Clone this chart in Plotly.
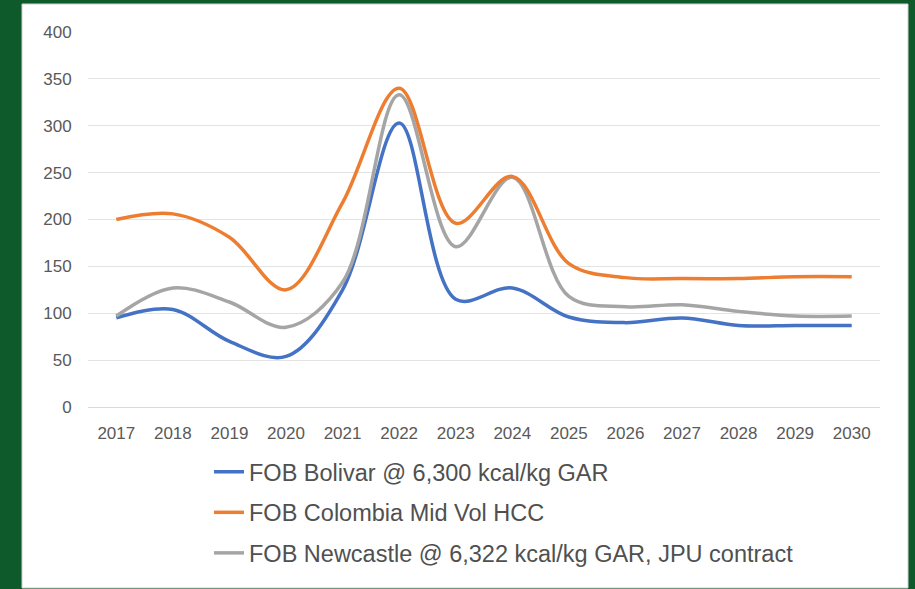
import plotly.graph_objects as go

years = ["2017", "2018", "2019", "2020", "2021", "2022", "2023", "2024",
         "2025", "2026", "2027", "2028", "2029", "2030"]
bolivar = [95, 104, 70, 54, 125, 303, 115, 127, 96, 90, 95, 87, 87, 87]
colombia = [200, 206, 181, 125, 218, 340, 196, 246, 153, 138, 137, 137, 139, 139]
newcastle = [97, 127, 112, 85, 133, 333, 171, 245, 118, 107, 109, 102, 97, 97]

names = ["FOB Bolivar @ 6,300 kcal/kg GAR",
         "FOB Colombia Mid Vol HCC",
         "FOB Newcastle @ 6,322 kcal/kg GAR, JPU contract"]
colors = ["#4472c4", "#ed7d31", "#a5a5a5"]
series = [bolivar, colombia, newcastle]

L, R, T, B = 88, 35, 32, 182
W, H = 915, 589
pw, ph = W - L - R, H - T - B

fig = go.Figure()
# draw order: blue, gray, orange (orange on top); legend order via legendrank
for i in [0, 2, 1]:
    fig.add_trace(go.Scatter(
        x=years, y=series[i], name=names[i], mode="lines",
        line=dict(color=colors[i], width=3.5, shape="spline", smoothing=1.0),
        legendgroup=str(i), legendrank=i + 1,
    ))


def px_x(p):
    return (p - L) / pw


def px_y(p):
    return (H - B - p) / ph


fig.add_shape(type="rect", xref="paper", yref="paper",
              x0=px_x(22), x1=px_x(908), y0=px_y(588), y1=px_y(4),
              fillcolor="white", line=dict(color="#d0d0d0", width=1), layer="below")

fig.update_layout(
    width=W, height=H,
    margin=dict(l=L, r=R, t=T, b=B, pad=0, autoexpand=False),
    paper_bgcolor="#0f5a2a",
    plot_bgcolor="rgba(0,0,0,0)",
    font=dict(family="Liberation Sans, Arial, sans-serif", color="#595959"),
    showlegend=True,
    legend=dict(
        x=px_x(209), y=px_y(450), xanchor="left", yanchor="top",
        font=dict(size=23.5, color="#505050"),
        tracegroupgap=7, traceorder="grouped",
        bgcolor="rgba(0,0,0,0)",
    ),
    xaxis=dict(
        type="category", range=[-0.5, 13.5], automargin=False,
        showgrid=False, showline=False, zeroline=False,
        ticks="outside", ticklen=11, tickcolor="rgba(0,0,0,0)",
        tickfont=dict(size=17, color="#595959"),
    ),
    yaxis=dict(
        range=[0, 400], dtick=50, automargin=False,
        showgrid=True, gridcolor="#e3e3e3", gridwidth=1.2,
        zeroline=True, zerolinecolor="#d9d9d9", zerolinewidth=1.2,
        showline=False,
        ticks="outside", ticklen=12, tickcolor="rgba(0,0,0,0)",
        tickfont=dict(size=17, color="#595959"),
    ),
)

fig.write_html("out.html", config={"displayModeBar": False},
               post_script="document.body.style.margin='0';")
